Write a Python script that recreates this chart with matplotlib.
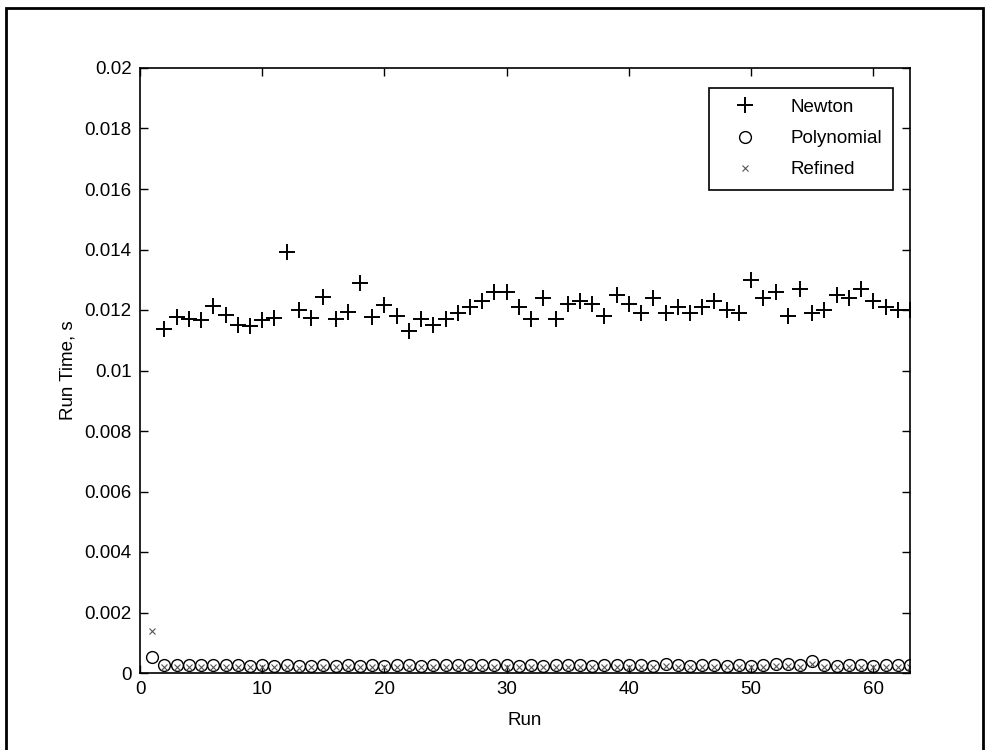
import matplotlib.pyplot as plt
from matplotlib.patches import Rectangle
from matplotlib.ticker import FormatStrFormatter

plt.rcParams['font.family'] = ['Liberation Sans', 'DejaVu Sans']

# run times, seconds
newton_runs = list(range(2, 64))
newton = [0.01136, 0.01177, 0.01171, 0.01166, 0.01213, 0.01182, 0.01152, 0.01147,
          0.01168, 0.01174, 0.01391, 0.01201, 0.01174, 0.01243, 0.01169, 0.01193,
          0.01288, 0.01177, 0.01218, 0.01179, 0.01130, 0.01170, 0.01150, 0.01170,
          0.01190, 0.01210, 0.01230, 0.01260, 0.01260, 0.01210, 0.01170, 0.01240,
          0.01170, 0.01220, 0.01230, 0.01220, 0.01180, 0.01250, 0.01220, 0.01190,
          0.01240, 0.01190, 0.01210, 0.01190, 0.01210, 0.01230, 0.01200, 0.01190,
          0.01300, 0.01240, 0.01260, 0.01180, 0.01270, 0.01190, 0.01200, 0.01250,
          0.01240, 0.01270, 0.01230, 0.01210, 0.01200, 0.01200]

runs = list(range(1, 64))
polynomial = [0.00053, 0.00026, 0.00028, 0.00027, 0.00026, 0.00025, 0.00026, 0.00027,
              0.00024, 0.00027, 0.00024, 0.00028, 0.00022, 0.00024, 0.00025, 0.00023,
              0.00025, 0.00024, 0.00026, 0.00024, 0.00025, 0.00026, 0.00024, 0.00025,
              0.00026, 0.00027, 0.00025, 0.00026, 0.00028, 0.00025, 0.00024, 0.00027,
              0.00024, 0.00025, 0.00026, 0.00025, 0.00024, 0.00026, 0.00025, 0.00027,
              0.00025, 0.00024, 0.00029, 0.00027, 0.00024, 0.00026, 0.00025, 0.00024,
              0.00026, 0.00024, 0.00027, 0.00029, 0.00030, 0.00026, 0.00040, 0.00027,
              0.00024, 0.00025, 0.00026, 0.00024, 0.00026, 0.00025, 0.00025]
refined = [0.00140, 0.00020, 0.00021, 0.00020, 0.00019, 0.00020, 0.00021, 0.00020,
           0.00019, 0.00020, 0.00019, 0.00021, 0.00018, 0.00019, 0.00020, 0.00019,
           0.00020, 0.00019, 0.00020, 0.00019, 0.00020, 0.00020, 0.00019, 0.00020,
           0.00020, 0.00021, 0.00019, 0.00020, 0.00021, 0.00019, 0.00019, 0.00020,
           0.00019, 0.00020, 0.00020, 0.00019, 0.00019, 0.00020, 0.00020, 0.00021,
           0.00020, 0.00019, 0.00022, 0.00021, 0.00019, 0.00020, 0.00020, 0.00019,
           0.00020, 0.00019, 0.00021, 0.00022, 0.00023, 0.00020, 0.00031, 0.00021,
           0.00019, 0.00020, 0.00020, 0.00019, 0.00020, 0.00020, 0.00020]

fig = plt.figure(figsize=(9.89, 7.5), dpi=100)
fig.patches.append(Rectangle((6 / 989, -0.01), 977 / 989, 1.0 - 8 / 750 + 0.01,
                             transform=fig.transFigure, fill=False,
                             edgecolor='black', linewidth=2))

ax = fig.add_axes([140 / 989, 77 / 750, 770 / 989, 605 / 750])
ax.plot(newton_runs, newton, '+', color='black', markersize=12, mew=1.4, label='Newton')
ax.plot(runs, polynomial, 'o', mfc='none', mec='black', markersize=8.5, mew=1.0,
        label='Polynomial')
ax.plot(runs, refined, 'x', color='#555555', markersize=5, mew=0.8, label='Refined')

ax.set_xlim(0, 63)
ax.set_ylim(0, 0.02)
ax.set_xticks(range(0, 61, 10))
ax.set_yticks([i * 0.002 for i in range(11)])
ax.yaxis.set_major_formatter(FormatStrFormatter('%g'))
ax.tick_params(direction='in', top=True, right=True, length=6, width=1,
               labelsize=13.5, pad=6)
for s in ax.spines.values():
    s.set_linewidth(1.2)

ax.set_xlabel('Run', fontsize=13.5, labelpad=10)
ax.set_ylabel('Run Time, s', fontsize=13.5, labelpad=6)

leg = ax.legend(loc='upper right', bbox_to_anchor=(0.99, 0.983), fontsize=13.5,
                fancybox=False, edgecolor='black', framealpha=1,
                handlelength=2.6, handletextpad=1.1, borderpad=0.6, labelspacing=0.75)
leg.get_frame().set_linewidth(1.2)

fig.savefig('out.png', dpi=100)
